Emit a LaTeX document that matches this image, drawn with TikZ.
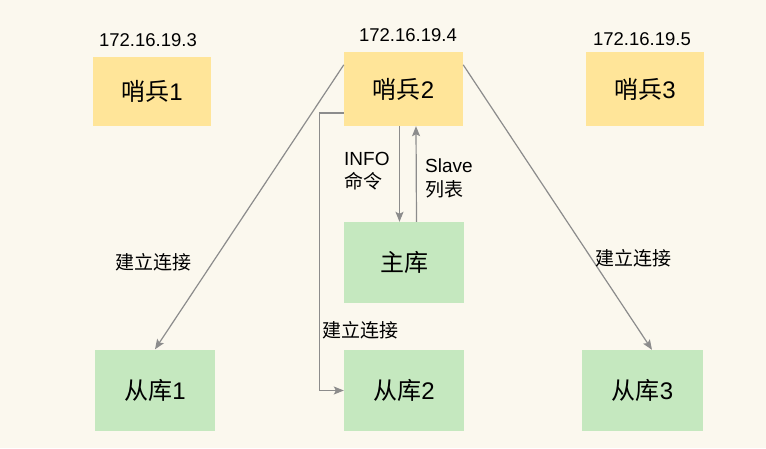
\documentclass[tikz,border=0pt]{standalone}
\usepackage{fontspec}
\setmainfont{Liberation Sans}
\newfontfamily\cjk{Noto Sans CJK SC}
\usetikzlibrary{arrows.meta}

\definecolor{bgcream}{HTML}{FBF8EE}
\definecolor{sentfill}{HTML}{FFE599}
\definecolor{dbfill}{HTML}{C5E8BF}
\definecolor{linkgray}{HTML}{8C8C8C}

\tikzset{
  sentbox/.style={fill=sentfill, draw=none, minimum width=118pt, minimum height=74pt,
    inner sep=0pt, font=\fontsize{24}{28}\selectfont},
  dbbox/.style={fill=dbfill, draw=none, minimum width=120pt, minimum height=81pt,
    inner sep=0pt, font=\fontsize{24}{28}\selectfont},
  iplabel/.style={inner sep=0pt, font=\fontsize{18.5}{22}\selectfont},
  txt/.style={inner sep=0pt, font=\fontsize{19}{24}\selectfont},
  link/.style={draw=linkgray, line width=1.2pt,
    -{Stealth[length=10pt,width=8pt,inset=2pt]}},
  plainlink/.style={draw=linkgray, line width=1.2pt}
}

\begin{document}
\begin{tikzpicture}[x=1pt, y=-1pt]
  % canvas
  \fill[bgcream] (0,0) rectangle (766,448);
  \useasboundingbox (0,0) rectangle (766,448);

  % sentinels
  \node[sentbox, minimum height=69pt] (s1) at (152,91.5) {{\cjk 哨兵}1};
  \node[sentbox, minimum width=119pt] (s2) at (403.5,89) {{\cjk 哨兵}2};
  \node[sentbox] (s3) at (645,89) {{\cjk 哨兵}3};

  \node[iplabel] (ip1) at (148,40.5) {172.16.19.3};
  \node[iplabel] (ip2) at (408,35) {172.16.19.4};
  \node[iplabel] (ip3) at (642,39.5) {172.16.19.5};

  % master and replicas
  \node[dbbox] (m)   at (404,262.5) {\cjk 主库};
  \node[dbbox] (r1)  at (155,390)   {{\cjk 从库}1};
  \node[dbbox] (r2)  at (404,390.5) {{\cjk 从库}2};
  \node[dbbox, minimum width=121pt] (r3) at (642.5,390.5) {{\cjk 从库}3};

  % sentinel 2 talks to the master
  \draw[link] ([xshift=-4pt]s2.south) -- ([xshift=-4.5pt]m.north);
  \draw[link] ([xshift=12.5pt]m.north) -- ([xshift=12.5pt]s2.south);

  \node[txt, anchor=base west] (info) at (344,165) {INFO};
  \node[txt, anchor=base west] (cmd)  at (344,188) {\cjk 命令};
  \node[txt, anchor=base west] (slv)  at (425,172) {Slave};
  \node[txt, anchor=base west] (lst)  at (425,196) {\cjk 列表};

  % sentinel 2 connects to each replica
  \draw[link] ([yshift=-13pt]s2.north west) -- (r1.north);
  \draw[link] ([yshift=-13pt]s2.north east) -- ([xshift=9.5pt]r3.north);
  \draw[link] ([yshift=-24pt]s2.west) -- ++(-24,0) |- (r2.west);

  \node[txt, anchor=west] (c1) at (115,262) {\cjk 建立连接};
  \node[txt, anchor=west] (c3) at (595,258) {\cjk 建立连接};
  \node[txt, anchor=west] (c2) at (322,330) {\cjk 建立连接};
\end{tikzpicture}
\end{document}
